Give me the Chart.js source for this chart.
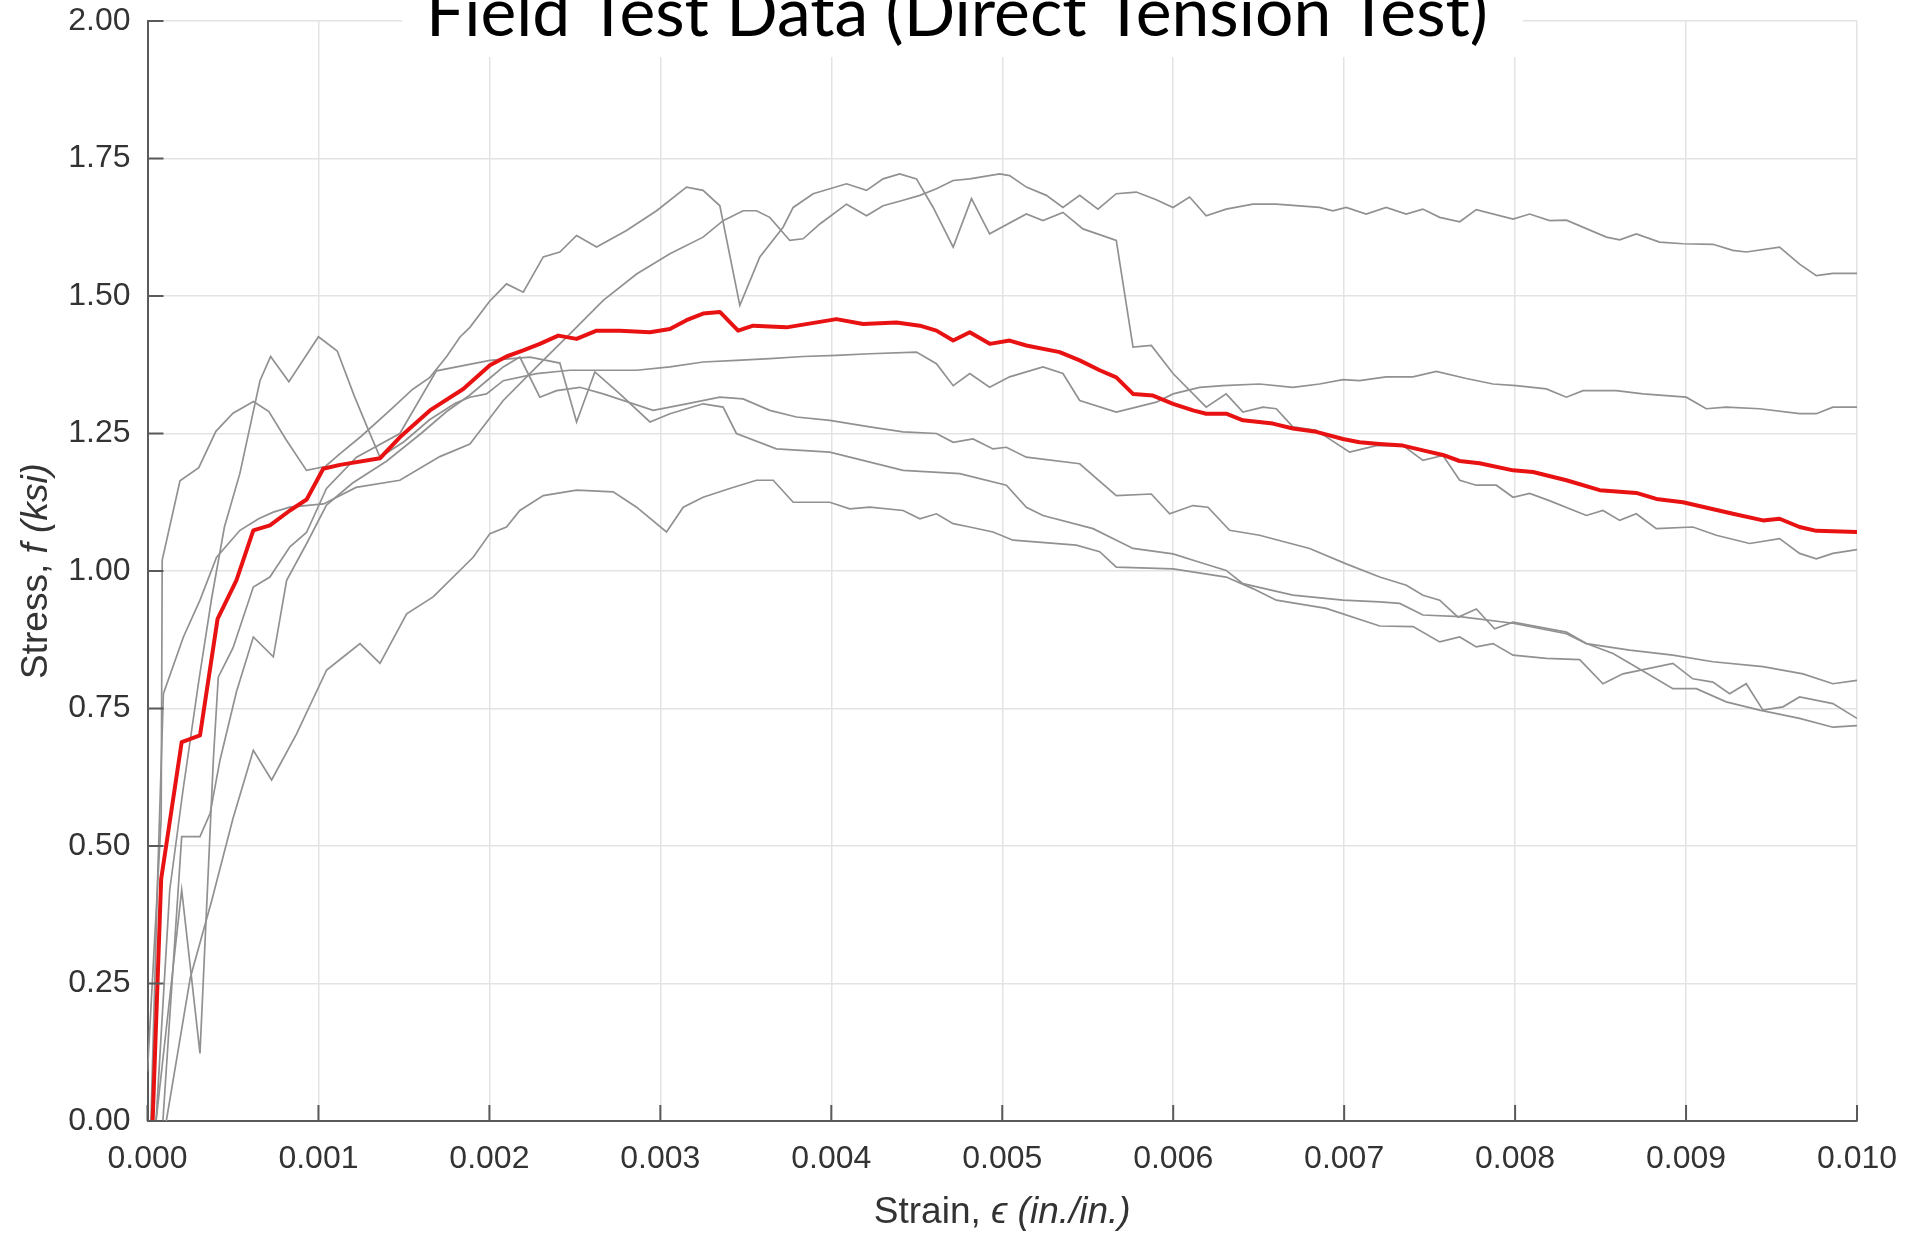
<!DOCTYPE html>
<html>
<head>
<meta charset="utf-8">
<script src="https://cdn.jsdelivr.net/npm/chart.js@4.4.1/dist/chart.umd.min.js"></script>
<style>
html,body{margin:0;padding:0;background:#fff;overflow:hidden}
canvas{display:block}
</style>
</head>
<body>
<canvas id="c" width="1911" height="1233"></canvas>
<script>
// ---------------- DATA (strain values given in units of 1e-3 in./in.; stress in ksi) ----------------
const chartTitle = "Field Test Data (Direct Tension Test)";
const strainTicks = [0, 0.001, 0.002, 0.003, 0.004, 0.005, 0.006, 0.007, 0.008, 0.009, 0.010];
const stressTicks = [0, 0.25, 0.5, 0.75, 1.0, 1.25, 1.5, 1.75, 2.0];

// Average curve (red)
const avgStrain = [0.03,0.08,0.2,0.307,0.41,0.52,0.619,0.716,0.833,0.931,
  1.028,1.126,1.36,1.476,1.652,1.847,2.003,2.1,2.198,2.295,
  2.403,2.51,2.627,2.763,2.939,3.056,3.153,3.25,3.348,3.455,
  3.543,3.738,4.03,4.186,4.381,4.518,4.615,4.713,4.81,4.927,
  5.043,5.141,5.336,5.453,5.57,5.667,5.765,5.882,5.999,6.116,
  6.193,6.31,6.408,6.583,6.7,6.837,6.993,7.09,7.207,7.344,
  7.48,7.578,7.675,7.792,7.988,8.105,8.3,8.495,8.709,8.826,
  8.982,9.274,9.45,9.547,9.664,9.762,10.0];
const avgStress = [0.0,0.44,0.689,0.701,0.913,0.983,1.074,1.083,1.11,1.13,
  1.186,1.193,1.205,1.243,1.292,1.331,1.374,1.39,1.401,1.413,
  1.428,1.422,1.437,1.437,1.434,1.44,1.456,1.468,1.471,1.437,
  1.446,1.443,1.458,1.449,1.452,1.446,1.437,1.419,1.434,1.413,
  1.419,1.41,1.398,1.383,1.365,1.352,1.322,1.319,1.304,1.292,
  1.286,1.286,1.274,1.268,1.259,1.253,1.24,1.234,1.231,1.228,
  1.218,1.211,1.2,1.196,1.183,1.18,1.165,1.147,1.142,1.131,
  1.125,1.104,1.092,1.095,1.08,1.073,1.071];

// Test A (ends ~1.54)
const testAStrain = [0.02,0.06,0.093,0.21,0.307,0.404,0.541,0.65,0.736,0.833,
  1.03,1.22,1.476,1.71,1.886,2.081,2.276,2.471,2.666,2.861,
  3.056,3.25,3.367,3.484,3.562,3.64,3.757,3.835,3.933,4.089,
  4.206,4.303,4.42,4.518,4.615,4.713,4.81,4.985,5.043,5.141,
  5.258,5.355,5.453,5.56,5.667,5.784,5.901,5.999,6.096,6.193,
  6.31,6.466,6.603,6.856,6.934,7.012,7.129,7.246,7.363,7.46,
  7.559,7.676,7.773,7.988,8.085,8.202,8.3,8.534,8.612,8.709,
  8.845,8.982,9.157,9.274,9.352,9.547,9.664,9.762,9.859,10.0];
const testAStress = [0.0,0.45,0.777,0.88,0.947,1.025,1.074,1.095,1.107,1.116,
  1.122,1.152,1.165,1.208,1.231,1.31,1.371,1.431,1.492,1.54,
  1.577,1.607,1.637,1.655,1.655,1.643,1.601,1.604,1.631,1.667,
  1.646,1.664,1.674,1.683,1.695,1.71,1.713,1.722,1.719,1.698,
  1.683,1.661,1.683,1.658,1.686,1.689,1.675,1.661,1.68,1.646,
  1.658,1.667,1.667,1.661,1.655,1.661,1.649,1.661,1.649,1.658,
  1.643,1.635,1.657,1.64,1.649,1.637,1.638,1.607,1.602,1.613,
  1.598,1.595,1.594,1.583,1.58,1.589,1.558,1.537,1.541,1.541];

// Test B (sharp drop near 0.0057, ends ~1.04)
const testBStrain = [0.0,0.08,0.086,0.19,0.30,0.40,0.50,0.62,0.71,0.81,
  0.93,1.04,1.125,1.25,1.418,1.55,1.652,1.75,1.827,1.886,
  2.0,2.1,2.198,2.315,2.412,2.51,2.627,2.802,2.978,3.153,
  3.25,3.348,3.465,3.582,3.718,3.777,3.894,4.089,4.206,4.303,
  4.4,4.498,4.596,4.713,4.82,4.926,5.141,5.238,5.355,5.472,
  5.667,5.765,5.872,5.999,6.193,6.31,6.408,6.525,6.603,6.7,
  6.837,7.032,7.188,7.344,7.461,7.578,7.676,7.773,7.89,7.988,
  8.085,8.2,8.417,8.514,8.612,8.709,8.826,9.04,9.177,9.372,
  9.547,9.664,9.762,9.859,10.0];
const testBStress = [0.09,0.55,1.02,1.164,1.188,1.254,1.287,1.308,1.29,1.239,
  1.183,1.19,1.213,1.245,1.292,1.33,1.352,1.39,1.425,1.443,
  1.49,1.522,1.507,1.571,1.58,1.61,1.589,1.619,1.655,1.698,
  1.692,1.664,1.483,1.571,1.625,1.661,1.686,1.704,1.692,1.713,
  1.722,1.713,1.661,1.589,1.677,1.613,1.649,1.637,1.652,1.622,
  1.601,1.407,1.41,1.359,1.298,1.322,1.289,1.298,1.295,1.262,
  1.256,1.216,1.228,1.228,1.201,1.21,1.165,1.156,1.156,1.134,
  1.141,1.128,1.101,1.11,1.092,1.104,1.077,1.08,1.065,1.05,
  1.059,1.032,1.022,1.032,1.039];

// Test C (ends ~1.30)
const testCStrain = [0.05,0.13,0.207,0.3,0.375,0.45,0.54,0.658,0.72,0.827,
  1.0,1.11,1.21,1.29,1.36,1.5,1.65,1.8,1.886,1.983,
  2.081,2.276,2.471,2.861,3.056,3.25,3.445,3.64,3.835,4.03,
  4.225,4.498,4.615,4.713,4.81,4.926,5.043,5.238,5.355,5.453,
  5.667,5.901,5.999,6.155,6.291,6.505,6.7,6.856,6.993,7.09,
  7.246,7.402,7.539,7.715,7.871,8.007,8.183,8.3,8.397,8.592,
  8.748,9.001,9.118,9.235,9.43,9.664,9.762,9.859,10.0];
const testCStress = [0.0,0.42,0.6,0.8,0.95,1.08,1.177,1.346,1.39,1.344,
  1.426,1.40,1.318,1.258,1.207,1.235,1.275,1.305,1.316,1.322,
  1.346,1.359,1.365,1.365,1.371,1.38,1.383,1.386,1.39,1.392,
  1.395,1.398,1.377,1.337,1.359,1.334,1.353,1.371,1.359,1.31,
  1.289,1.307,1.322,1.334,1.337,1.34,1.334,1.34,1.348,1.346,
  1.353,1.353,1.363,1.35,1.34,1.337,1.331,1.316,1.328,1.328,
  1.322,1.316,1.295,1.298,1.295,1.286,1.286,1.298,1.298];

// Test D (ends ~0.72)
const testDStrain = [0.09,0.2,0.307,0.366,0.424,0.52,0.619,0.736,0.814,0.931,
  1.047,1.2,1.4,1.6,1.75,1.886,2.0,2.081,2.178,2.295,
  2.393,2.529,2.666,2.958,3.153,3.348,3.484,3.64,3.796,3.991,
  4.225,4.42,4.615,4.713,4.829,4.946,5.024,5.141,5.453,5.667,
  5.872,5.979,6.115,6.203,6.33,6.505,6.798,7.012,7.208,7.364,
  7.461,7.559,7.666,7.773,7.88,7.988,8.3,8.417,8.573,8.728,
  8.923,9.06,9.235,9.43,9.664,9.859,10.0];
const testDStress = [0.0,0.517,0.517,0.559,0.656,0.78,0.88,0.844,0.983,1.05,
  1.12,1.16,1.2,1.25,1.29,1.32,1.35,1.371,1.389,1.316,
  1.328,1.334,1.322,1.292,1.304,1.316,1.313,1.292,1.28,1.274,
  1.262,1.253,1.25,1.234,1.24,1.222,1.225,1.207,1.195,1.137,
  1.14,1.104,1.119,1.116,1.074,1.065,1.041,1.013,0.989,0.974,
  0.956,0.947,0.916,0.931,0.895,0.907,0.889,0.868,0.85,0.822,
  0.786,0.786,0.762,0.747,0.732,0.716,0.719];

// Test E (ends ~0.80)
const testEStrain = [0.05,0.2,0.307,0.385,0.414,0.5,0.619,0.716,0.833,0.93,
  1.047,1.223,1.476,1.69,2.003,2.237,2.412,2.51,2.617,2.763,
  2.939,3.056,3.25,3.367,3.445,3.679,3.991,4.42,4.751,5.024,
  5.141,5.238,5.531,5.765,5.999,6.154,6.31,6.408,6.7,6.993,
  7.208,7.325,7.461,7.676,7.988,8.3,8.417,8.67,8.923,9.157,
  9.45,9.684,9.859,10.0];
const testEStress = [0.0,0.42,0.123,0.656,0.807,0.86,0.971,0.989,1.044,1.07,
  1.15,1.207,1.25,1.364,1.383,1.389,1.378,1.271,1.362,1.322,
  1.271,1.286,1.304,1.298,1.25,1.222,1.216,1.183,1.177,1.156,
  1.116,1.101,1.077,1.041,1.031,1.016,1.001,0.977,0.956,0.947,
  0.944,0.941,0.92,0.917,0.905,0.886,0.868,0.856,0.847,0.835,
  0.826,0.813,0.795,0.801];

// Test F (lowest early response, ends ~0.73)
const testFStrain = [0.11,0.25,0.375,0.5,0.619,0.726,0.872,1.048,1.15,1.243,
  1.36,1.516,1.671,1.905,2.003,2.1,2.178,2.315,2.51,2.724,
  2.861,3.036,3.134,3.25,3.406,3.562,3.66,3.777,3.991,4.108,
  4.225,4.42,4.518,4.615,4.713,4.81,4.946,5.063,5.433,5.57,
  5.667,5.999,6.31,6.466,6.603,6.895,7.208,7.403,7.559,7.676,
  7.773,7.871,7.988,8.183,8.378,8.514,8.631,8.923,9.04,9.157,
  9.255,9.352,9.45,9.567,9.664,9.859,10.0];
const testFStress = [0.0,0.26,0.4,0.55,0.674,0.62,0.704,0.82,0.845,0.868,
  0.832,0.922,0.953,1.025,1.068,1.08,1.11,1.137,1.147,1.144,
  1.116,1.071,1.116,1.134,1.15,1.165,1.165,1.125,1.125,1.113,
  1.116,1.11,1.095,1.104,1.086,1.08,1.071,1.056,1.047,1.035,
  1.007,1.004,0.989,0.968,0.947,0.932,0.9,0.899,0.871,0.88,
  0.862,0.868,0.847,0.841,0.839,0.795,0.813,0.832,0.804,0.798,
  0.777,0.795,0.747,0.753,0.771,0.759,0.732];

// ---------------- CHART ----------------
const toPts = (xs, ys) => xs.map((x, i) => ({ x: x / 1000, y: ys[i] }));
const grayTests = [
  [testAStrain, testAStress], [testBStrain, testBStress], [testCStrain, testCStress],
  [testDStrain, testDStress], [testEStrain, testEStress], [testFStrain, testFStress]
];

const GRAY = 'rgb(145,145,145)';
const RED = 'rgb(232,18,18)';
const AXIS = '#5a5a5a';
const TEXT = '#333333';
const GRID = '#e3e3e3';

const datasets = [{
  data: toPts(avgStrain, avgStress),
  borderColor: RED, borderWidth: 4, showLine: true, pointRadius: 0,
  tension: 0, borderJoinStyle: 'round', order: 0
}].concat(grayTests.map(([xs, ys]) => ({
  data: toPts(xs, ys),
  borderColor: GRAY, borderWidth: 1.7, showLine: true, pointRadius: 0,
  tension: 0, order: 1
})));

const innerTicks = {
  id: 'innerTicks',
  afterDatasetsDraw(chart) {
    const { ctx, chartArea: a, scales: { x, y } } = chart;
    ctx.save();
    ctx.strokeStyle = AXIS;
    ctx.lineWidth = 2;
    ctx.beginPath();
    x.ticks.forEach(t => { const px = x.getPixelForValue(t.value); ctx.moveTo(px, a.bottom); ctx.lineTo(px, a.bottom - 16); });
    y.ticks.forEach(t => { const py = y.getPixelForValue(t.value); ctx.moveTo(a.left, py); ctx.lineTo(a.left + 16, py); });
    ctx.stroke();
    ctx.restore();
  }
};

function drawMixed(ctx, parts, cx, cy) {
  let total = 0;
  parts.forEach(p => { ctx.font = p[1]; total += ctx.measureText(p[0]).width; });
  let xx = cx - total / 2;
  parts.forEach(p => { ctx.font = p[1]; ctx.fillText(p[0], xx, cy); xx += ctx.measureText(p[0]).width; });
}

const labelsPlugin = {
  id: 'labels',
  afterDraw(chart) {
    const { ctx, chartArea: a } = chart;
    ctx.save();
    // title box (covers top grid) and title text
    ctx.fillStyle = '#ffffff';
    ctx.fillRect(402, 0, 1121, 57);
    ctx.fillStyle = '#000000';
    ctx.textBaseline = 'alphabetic';
    ctx.font = '100px Lato';
    const w100 = ctx.measureText(chartTitle).width;
    const size = 100 * 1062 / w100;
    ctx.font = size.toFixed(1) + 'px Lato';
    ctx.textAlign = 'center';
    ctx.fillText(chartTitle, 957, 36);

    // axis titles
    ctx.fillStyle = TEXT;
    ctx.textAlign = 'left';
    ctx.textBaseline = 'middle';
    const nf = '37px "Liberation Sans"';
    const itf = 'italic 37px "Liberation Sans"';
    drawMixed(ctx, [['Strain, ', nf], ['\u03F5 (in./in.)', itf]], (a.left + a.right) / 2, 1213);
    ctx.translate(37, (a.top + a.bottom) / 2);
    ctx.rotate(-Math.PI / 2);
    drawMixed(ctx, [['Stress, ', nf], ['f (ksi)', itf]], 0, 0);
    ctx.restore();
  }
};

new Chart(document.getElementById('c').getContext('2d'), {
  type: 'scatter',
  data: { datasets },
  options: {
    responsive: false,
    animation: false,
    devicePixelRatio: 1,
    layout: { padding: { top: 21, right: 54, left: 0, bottom: 0 } },
    plugins: { legend: { display: false }, tooltip: { enabled: false }, title: { display: false } },
    scales: {
      x: {
        type: 'linear', min: 0, max: 0.010,
        afterBuildTicks: s => { s.ticks = strainTicks.map(v => ({ value: v })); },
        afterFit: s => { s.height = 112; s.paddingLeft = 0; s.paddingRight = 0; },
        ticks: {
          callback: v => Number(v).toFixed(3),
          font: { family: 'Liberation Sans', size: 32 }, color: TEXT,
          padding: 19, maxRotation: 0, autoSkip: false
        },
        grid: { color: GRID, lineWidth: 1.5, drawTicks: false },
        border: { color: AXIS, width: 2 }
      },
      y: {
        type: 'linear', min: 0, max: 2,
        afterBuildTicks: s => { s.ticks = stressTicks.map(v => ({ value: v })); },
        afterFit: s => { s.width = 147.5; s.paddingTop = 0; s.paddingBottom = 0; },
        ticks: {
          callback: v => Number(v).toFixed(2),
          font: { family: 'Liberation Sans', size: 32 }, color: TEXT,
          padding: 17, autoSkip: false
        },
        grid: { color: GRID, lineWidth: 1.5, drawTicks: false },
        border: { color: AXIS, width: 2 }
      }
    }
  },
  plugins: [innerTicks, labelsPlugin]
});
</script>
</body>
</html>
